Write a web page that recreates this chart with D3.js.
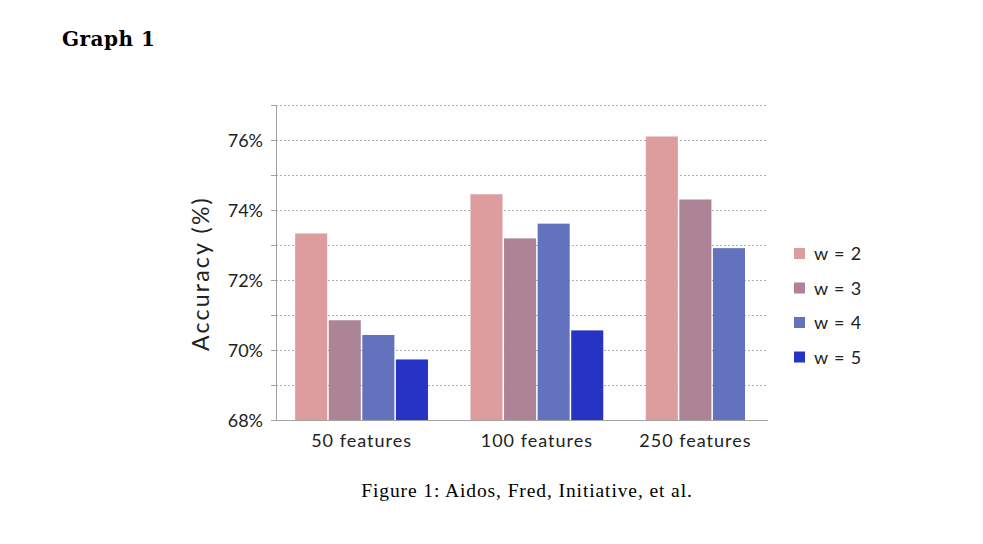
<!DOCTYPE html>
<html>
<head>
<meta charset="utf-8">
<script src="https://cdn.jsdelivr.net/npm/d3@7"></script>
<style>
  body { margin: 0; background: #fff; }
  svg { display: block; }
</style>
</head>
<body>
<svg id="chart" width="983" height="544"></svg>
<script>
// chart data
const categories = ["50 features", "100 features", "250 features"];
const seriesNames = ["w = 2", "w = 3", "w = 4", "w = 5"];
const seriesColors = ["#dd9c9e", "#ad8496", "#6272bd", "#2733c4"];
// accuracy in %, null = no bar
const w2 = [73.33, 74.45, 76.1];
const w3 = [70.85, 73.19, 74.3];
const w4 = [70.43, 73.61, 72.91];
const w5 = [69.73, 70.56, null];
const yTicks = [68, 70, 72, 74, 76];

const svg = d3.select("#chart");
const margin = { top: 105, right: 215, bottom: 124, left: 276 };
const width = 983 - margin.left - margin.right,
    height = 544 - margin.top - margin.bottom;

const values = [w2, w3, w4, w5];

// bars are packed: one slot each, groups only hold the bars they have
const groups = categories.map((c, i) => ({
    cat: c,
    bars: values.map((v, s) => ({ s: s, v: v[i] })).filter(d => d.v != null)
}));
const outerLeft = 0.57, outerRight = 0.64, groupGap = 1.22, barFrac = 0.955;
let pos = outerLeft;
groups.forEach((g, i) => {
    g.start = pos;
    g.bars.forEach((b, j) => { b.x = pos + j; });
    pos += g.bars.length;
    g.end = pos;
    if (i < groups.length - 1) pos += groupGap;
});
const totalUnits = pos + outerRight;

const x = d3.scaleLinear().domain([0, totalUnits]).range([0, width]);
const y = d3.scaleLinear().domain([68, 77]).range([height, 0]);

const g = svg.append("g")
    .attr("transform", "translate(" + margin.left + "," + margin.top + ")");

// dotted grid every 1%
g.append("g")
    .selectAll("line")
    .data(d3.range(69, 78))
    .enter()
    .append("line")
    .attr("x1", 0)
    .attr("x2", width)
    .attr("y1", d => y(d) + 0.5)
    .attr("y2", d => y(d) + 0.5)
    .attr("stroke", "#b0b0b0")
    .attr("stroke-width", 1)
    .attr("stroke-dasharray", "2,2");

// y axis
const yAxis = g.append("g")
    .call(d3.axisLeft(y).tickValues(d3.range(68, 78)).tickSize(5)
        .tickFormat(d => yTicks.includes(d) ? d + "%" : ""));
yAxis.select(".domain").attr("stroke", "#a0a0a0").attr("d", "M0.5," + height + "V0");
yAxis.selectAll(".tick line").attr("stroke", "#a0a0a0");
yAxis.selectAll("text")
    .attr("x", -13)
    .attr("dy", "0.36em")
    .style("font-family", "Lato, sans-serif")
    .style("font-size", "18px")
    .style("fill", "#222");

// bars
groups.forEach(grp => {
    g.append("g")
        .selectAll("rect")
        .data(grp.bars)
        .enter()
        .append("rect")
        .attr("x", d => x(d.x))
        .attr("y", d => y(d.v))
        .attr("width", x(barFrac) - x(0))
        .attr("height", d => height - y(d.v))
        .style("fill", d => seriesColors[d.s]);
});

// x axis baseline
g.append("line")
    .attr("x1", 0).attr("x2", width)
    .attr("y1", height + 0.5).attr("y2", height + 0.5)
    .attr("stroke", "#a0a0a0");

// category labels
g.append("g")
    .selectAll("text")
    .data(groups)
    .enter()
    .append("text")
    .attr("x", d => x((d.start + d.end - (1 - barFrac)) / 2))
    .attr("y", height + 27)
    .attr("text-anchor", "middle")
    .style("font-family", "Lato, sans-serif")
    .style("font-size", "18px")
    .style("letter-spacing", "1px")
    .style("fill", "#222")
    .text(d => d.cat);

// y label
svg.append("text")
    .attr("transform", "translate(209," + (margin.top + height / 2 + 11) + ") rotate(-90)")
    .attr("text-anchor", "middle")
    .style("font-family", "Lato, sans-serif")
    .style("font-size", "23px")
    .style("letter-spacing", "2.2px")
    .style("fill", "#222")
    .text("Accuracy (%)");

// legend
const legend = svg.append("g")
    .attr("transform", "translate(794,254)");
const items = legend.selectAll("g")
    .data(seriesNames)
    .enter()
    .append("g")
    .attr("transform", (d, i) => "translate(0," + i * 34.5 + ")");
items.append("rect")
    .attr("x", 0).attr("y", -6)
    .attr("width", 11).attr("height", 11)
    .style("fill", (d, i) => seriesColors[i]);
items.append("text")
    .attr("x", 20)
    .attr("dy", "0.36em")
    .style("font-family", "Lato, sans-serif")
    .style("font-size", "18px")
    .style("letter-spacing", "0.8px")
    .style("fill", "#222")
    .text(d => d);

// page title and caption
svg.append("text")
    .attr("x", 62).attr("y", 46)
    .style("font-family", "'DejaVu Serif', serif")
    .style("font-weight", "bold")
    .style("font-size", "20px")
    .style("letter-spacing", "0.5px")
    .text("Graph 1");

svg.append("text")
    .attr("x", 527).attr("y", 497)
    .attr("text-anchor", "middle")
    .style("font-family", "'Liberation Serif', serif")
    .style("font-size", "19.5px")
    .style("letter-spacing", "0.9px")
    .text("Figure 1:  Aidos, Fred, Initiative, et al.");
</script>
</body>
</html>
